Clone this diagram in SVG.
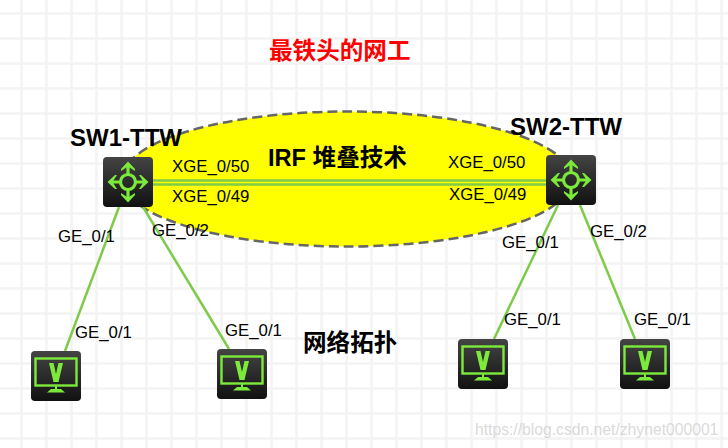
<svg xmlns="http://www.w3.org/2000/svg" width="728" height="448" viewBox="0 0 728 448">
<defs>
<pattern id="grid" x="0" y="0" width="25" height="25" patternUnits="userSpaceOnUse" patternTransform="translate(20 12)">
<path d="M1.500 0V25M0 1.500H25" fill="none" stroke="#f3f3f3" stroke-width="2.500"/>
</pattern>
<linearGradient id="dark" x1="0" y1="0" x2="0" y2="1"><stop offset="0" stop-color="#444"/><stop offset="1" stop-color="#111"/></linearGradient>
<g id="sw">
<rect x="-25" y="-25" width="50" height="50" rx="4" fill="url(#dark)"/>
<g fill="none" stroke="#7cea3a" stroke-width="3.200">
<circle r="7.500"/>
<path d="M0 -7.500V-18M0 7.500V18M-7.500 0H-18M7.500 0H18"/>
</g>
<path fill="#7cea3a" d="M0 -20.500L7 -13V-11L0 -15.500L-7 -11V-13ZM0 20.500L7 13V11L0 15.500L-7 11V13ZM-20.500 0L-13 7H-11L-15.500 0L-11 -7H-13ZM20.500 0L13 7H11L15.500 0L11 -7H13Z"/>
</g>
<g id="vm">
<rect x="-25" y="-25" width="50" height="50" rx="4" fill="url(#dark)"/>
<rect x="-20.500" y="-17.500" width="41" height="27" fill="none" stroke="#7cea3a" stroke-width="2.400"/>
<path d="M-7 -13H-2.500L0 -2L2.500 -13H7L2.500 6H-2.500Z" fill="#7cea3a"/>
<path d="M-1 10H1V13H5L9 16.500H-9L-5 13H-1Z" fill="#7cea3a"/>
</g>
</defs>
<style>
.l{font-family:"Liberation Sans",Arial,sans-serif;font-size:16.800px;fill:#000}
.h{font-family:"Liberation Sans",Arial,sans-serif;font-size:24px;font-weight:bold;fill:#000}
.c{font-family:"Liberation Sans","Noto Sans CJK SC",sans-serif;font-weight:bold;font-size:23.600px}
.w{stroke:#7ecb4a;stroke-width:2.500;fill:none}
</style>
<rect width="728" height="448" fill="#fff"/>
<rect width="728" height="448" fill="url(#grid)"/>
<ellipse id="irf" cx="347" cy="179" rx="225" ry="67.500" fill="#ffff00" stroke="#666" stroke-width="2.500" stroke-dasharray="10 5"/>
<g id="connectors">
<path class="w" d="M128 180.500H571M128 184.500H571"/>
<path class="w" d="M119 207L65 351"/>
<path class="w" d="M143 207L229 349"/>
<path class="w" d="M558 205L494 339"/>
<path class="w" d="M580 205L635 339"/>
</g>
<g id="sw1"><use href="#sw" x="128" y="182"/><text class="h" x="70" y="146">SW1-TTW</text></g>
<g id="sw2"><use href="#sw" x="571" y="180"/><text class="h" x="510" y="135">SW2-TTW</text></g>
<g id="pc1"><use href="#vm" x="56" y="376"/></g>
<g id="pc2"><use href="#vm" x="242" y="374"/></g>
<g id="pc3"><use href="#vm" x="483" y="364"/></g>
<g id="pc4"><use href="#vm" x="645" y="364"/></g>
<g id="labels">
<text class="l" x="172" y="172">XGE_0/50</text>
<text class="l" x="172" y="202">XGE_0/49</text>
<text class="l" x="448" y="168">XGE_0/50</text>
<text class="l" x="449" y="200">XGE_0/49</text>
<text class="l" x="58" y="242">GE_0/1</text>
<text class="l" x="152" y="236">GE_0/2</text>
<text class="l" x="75" y="338">GE_0/1</text>
<text class="l" x="225" y="336">GE_0/1</text>
<text class="l" x="502" y="248">GE_0/1</text>
<text class="l" x="590" y="237">GE_0/2</text>
<text class="l" x="504" y="325">GE_0/1</text>
<text class="l" x="634" y="325">GE_0/1</text>
<text class="c" x="269" y="59" fill="#ff0000">最铁头的网工</text>
<text class="c" x="268" y="166" fill="#000">IRF 堆叠技术</text>
<text class="c" x="303" y="351" fill="#000">网络拓扑</text>
<text x="475" y="435" font-family="Liberation Sans,sans-serif" font-size="15.700" fill="#d0d0d0" fill-opacity=".8">https://blog.csdn.net/zhynet000001</text>
</g>
</svg>
